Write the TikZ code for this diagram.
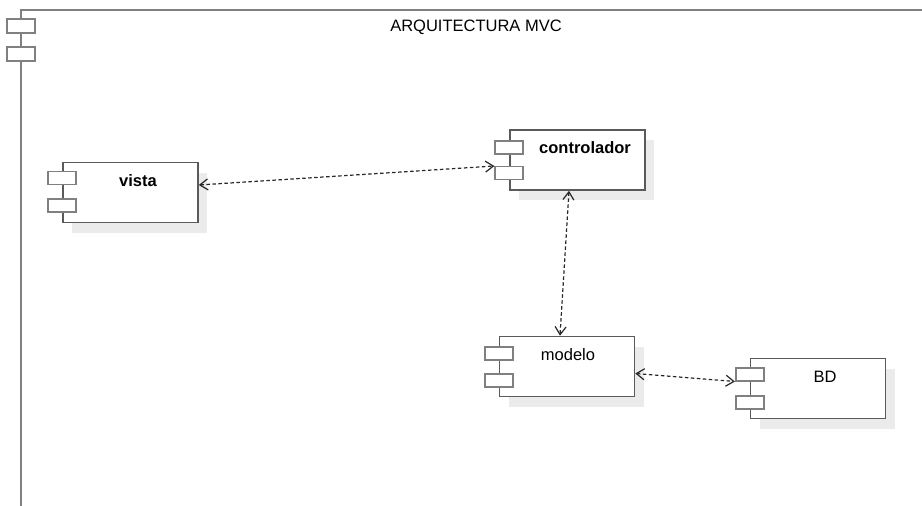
\documentclass[tikz,border=0pt]{standalone}
\usepackage{fontspec}
\setmainfont{Liberation Sans}
\usetikzlibrary{arrows.meta,calc}
\definecolor{frm}{HTML}{808080}
\definecolor{bdr}{HTML}{5A5A5A}
\definecolor{shd}{HTML}{EBEBEB}
\tikzset{
  compbox/.style={draw=bdr,line width=1.6pt,fill=white,minimum width=135pt,minimum height=60pt,inner sep=0pt},
  shadowbox/.style={fill=shd,draw=none,minimum width=135pt,minimum height=60pt,inner sep=0pt},
  portbox/.style={draw=frm,line width=1.6pt,fill=white,minimum width=28pt,minimum height=13pt,inner sep=0pt},
  lbl/.style={font=\fontsize{16.5}{18}\selectfont,text=black,inner sep=0pt},
  blbl/.style={font=\bfseries\fontsize{16.5}{18}\selectfont,text=black,inner sep=0pt},
  dep/.style={draw=black!85,line width=1.2pt,dash pattern=on 3.5pt off 2.5pt,{Straight Barb[length=8pt,width=11pt]}-{Straight Barb[length=8pt,width=11pt]}}
}
\begin{document}
\begin{tikzpicture}[x=1pt,y=-1pt]
\useasboundingbox (0,0) rectangle (922,506);
% outer frame
\draw[frm,line width=2.5pt] (21,510) -- (21,10) -- (930,10);
\node[portbox,minimum width=28pt,minimum height=14pt,line width=2pt] (fp1) at (21,26) {};
\node[portbox,minimum width=28pt,minimum height=14pt,line width=2pt] (fp2) at (21,53.5) {};
\node[lbl] (title) at (476,27) {ARQUITECTURA MVC};
% shadows
\node[shadowbox] at (139.5,202.5) {};
\node[shadowbox] at (586.5,170) {};
\node[shadowbox] at (576,376.5) {};
\node[shadowbox] at (827,398.5) {};
% components
\node[compbox] (vista) at (130.5,192.5) {};
\node[portbox] (vp1) at (vista.west|-0,178) {};
\node[portbox] (vp2) at (vista.west|-0,205.5) {};
\node[blbl] (vistaT) at (138,181) {vista};

\node[compbox] (ctrl) at (577.5,160) {};
\node[portbox] (cp1) at (ctrl.west|-0,147.5) {};
\node[portbox] (cp2) at (ctrl.west|-0,173) {};
\node[blbl] (ctrlT) at (585,148) {controlador};

\node[compbox] (modelo) at (567,366.5) {};
\node[portbox] (mp1) at (modelo.west|-0,353.5) {};
\node[portbox] (mp2) at (modelo.west|-0,380.5) {};
\node[lbl] (modeloT) at (568,355) {modelo};

\node[compbox] (bd) at (818,388.5) {};
\node[portbox] (bp1) at (bd.west|-0,374.5) {};
\node[portbox] (bp2) at (bd.west|-0,402.5) {};
\node[lbl] (bdT) at (825,377) {BD};

% connectors
\coordinate (a1) at (vista.east|-0,185);
\coordinate (a2) at (cp2.west|-0,166);
\draw[dep] (a1) -- (a2);
\coordinate (b1) at (569,0|-ctrl.south);
\coordinate (b2) at (560,0|-modelo.north);
\draw[dep] (b1) -- (b2);
\coordinate (c1) at (modelo.east|-0,373.5);
\coordinate (c2) at (bp1.west|-0,381.5);
\draw[dep] (c1) -- (c2);
\end{tikzpicture}
\end{document}
